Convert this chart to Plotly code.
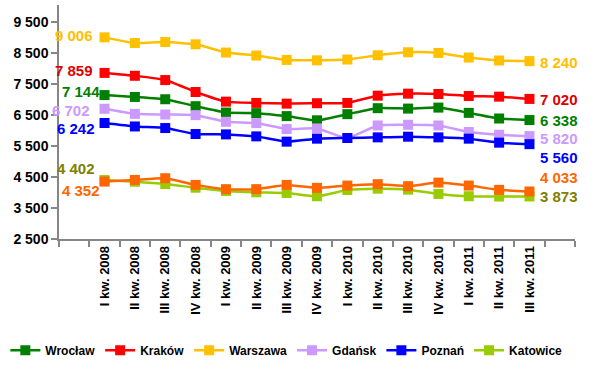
import plotly.graph_objects as go

quarters = ["I kw. 2008", "II kw. 2008", "III kw. 2008", "IV kw. 2008",
            "I kw. 2009", "II kw. 2009", "III kw. 2009", "IV kw. 2009",
            "I kw. 2010", "II kw. 2010", "III kw. 2010", "IV kw. 2010",
            "I kw. 2011", "II kw. 2011", "III kw. 2011"]

wroclaw  = [7144, 7083, 7009, 6785, 6580, 6561, 6465, 6330, 6528, 6721, 6708, 6740, 6570, 6388, 6338]
krakow   = [7859, 7766, 7628, 7243, 6932, 6891, 6868, 6881, 6891, 7125, 7189, 7179, 7115, 7093, 7020]
warszawa = [9006, 8823, 8855, 8782, 8516, 8419, 8278, 8265, 8291, 8429, 8525, 8503, 8355, 8259, 8240]
gdansk   = [6702, 6538, 6516, 6496, 6282, 6240, 6048, 6067, 5759, 6163, 6186, 6163, 5952, 5865, 5820]
poznan   = [6242, 6131, 6080, 5887, 5875, 5811, 5641, 5737, 5759, 5779, 5801, 5779, 5737, 5608, 5560]
katowice = [4402, 4348, 4274, 4155, 4050, 4008, 3985, 3880, 4082, 4124, 4092, 3954, 3880, 3870, 3873]
other    = [4352, 4406, 4461, 4246, 4108, 4108, 4246, 4150, 4224, 4269, 4205, 4320, 4224, 4086, 4033]

y_ticks = [2500, 3500, 4500, 5500, 6500, 7500, 8500, 9500]

FONT = "Liberation Sans, Arial, sans-serif"

# name, values, line colour, label colour, legend, start label (xshift, yshift), end label (xshift, yshift)
series = [
    ("Wrocław",  wroclaw,  "#008000", "#008000", True,  (2, 4),   (9, 0)),
    ("Kraków",   krakow,   "#FF0000", "#E00000", True,  (-5, 2),  (9, -1)),
    ("Warszawa", warszawa, "#FFC000", "#FFC000", True,  (-5, 2),  (9, -1)),
    ("Gdańsk",   gdansk,   "#CC99FF", "#CC99FF", True,  (-8, -2), (9, -2)),
    ("Poznań",   poznan,   "#0000FF", "#0000FF", True,  (-3, -5), (9, -13)),
    ("Katowice", katowice, "#99CC00", "#808000", True,  (-3, 12), (9, 0)),
    ("(bez nazwy)", other, "#FF6600", "#FF6600", False, (2, -9),  (9, 14)),
]

xs = list(range(len(quarters)))

def fmt(v):
    return f"{v:,}".replace(",", " ")

fig = go.Figure()
annotations = []
for name, vals, col, lcol, show, s_off, e_off in series:
    fig.add_trace(go.Scatter(
        x=xs, y=vals, name=name, mode="lines+markers", showlegend=show,
        line=dict(color=col, width=2.5, shape="spline", smoothing=0.5),
        marker=dict(symbol="square", size=10, color=col),
    ))
    annotations.append(dict(
        x=xs[0], y=vals[0], xref="x", yref="y", text=fmt(vals[0]),
        showarrow=False, xanchor="right", yanchor="middle",
        xshift=-5 + s_off[0], yshift=s_off[1],
        font=dict(family=FONT, size=15, color=lcol, weight="bold"),
    ))
    annotations.append(dict(
        x=xs[-1], y=vals[-1], xref="x", yref="y", text=fmt(vals[-1]),
        showarrow=False, xanchor="left", yanchor="middle",
        xshift=e_off[0], yshift=e_off[1],
        font=dict(family=FONT, size=15, color=lcol, weight="bold"),
    ))

fig.update_layout(
    width=600, height=369,
    margin=dict(l=57, r=25, t=5, b=128),
    paper_bgcolor="white", plot_bgcolor="white",
    separators=", ",
    font=dict(family=FONT, size=13, color="black"),
    showlegend=True,
    legend=dict(orientation="h", x=-0.104, xanchor="left", y=-0.475, yanchor="middle",
                font=dict(family=FONT, size=12, color="black", weight="bold"),
                itemwidth=30, tracegroupgap=0, borderwidth=0),
    annotations=annotations,
)

fig.update_xaxes(
    range=[-1.5, 15.5], tickmode="array", tickvals=xs, ticktext=quarters,
    tickangle=-90, ticks="", showgrid=False, zeroline=False, automargin=False,
    showline=True, linecolor="#868686", linewidth=1.5,
    tickfont=dict(family=FONT, size=13, color="black", weight="bold"),
    minor=dict(tickmode="linear", tick0=-1.5, dtick=1, ticks="outside",
               ticklen=6, tickcolor="#868686", tickwidth=1.5, showgrid=False),
)
fig.update_yaxes(
    range=[2500, 10050], tickmode="array", tickvals=y_ticks, tickformat=",d",
    ticks="outside", ticklen=6, tickcolor="#868686", tickwidth=1.5,
    showgrid=False, zeroline=False, automargin=False,
    showline=True, linecolor="#868686", linewidth=1.5,
    tickfont=dict(family=FONT, size=14, color="black", weight="bold"),
)

fig.write_html("out.html", config={"displayModeBar": False},
               post_script="document.body.style.margin='0';document.body.style.overflow='hidden';")
